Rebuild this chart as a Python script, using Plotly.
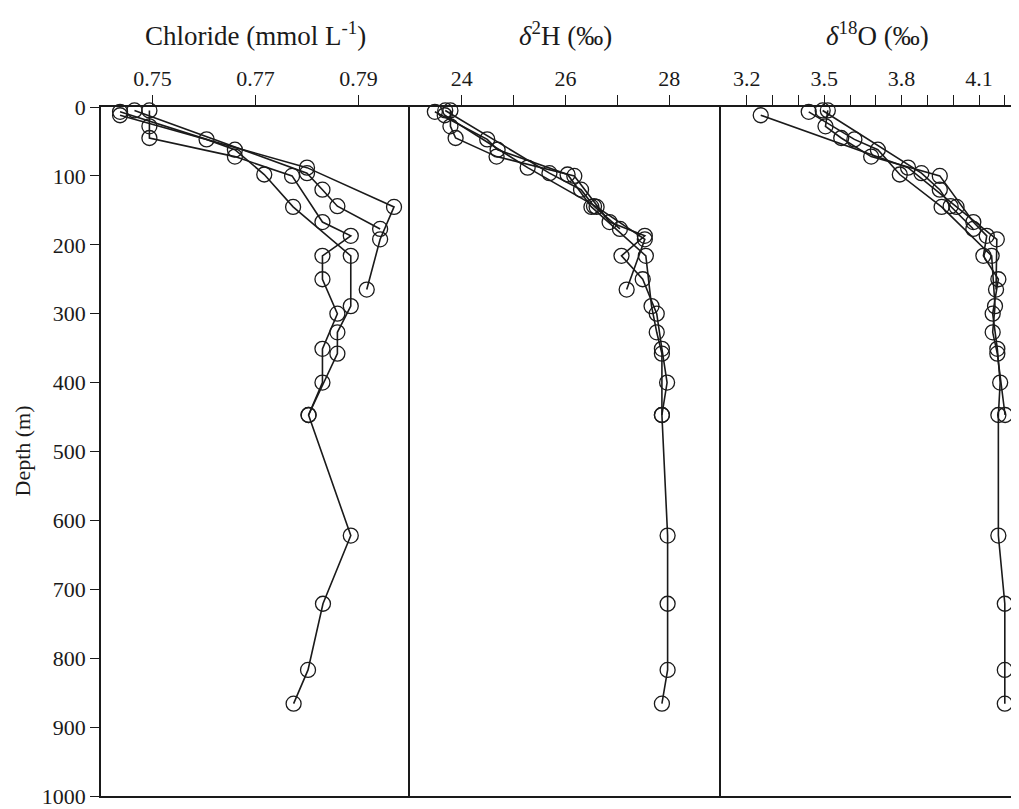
import plotly.graph_objects as go

# ---------------- data ----------------
# Series 1 (deep profile)
s1_depth = [5, 28, 45, 72, 100, 167, 187, 216, 250, 300, 351, 400, 447, 622, 721, 817, 866]
s1_cl    = [0.7494, 0.7494, 0.7494, 0.7660, 0.7771, 0.7830, 0.7885, 0.7830, 0.7830, 0.7859, 0.7830, 0.7830, 0.7803, 0.7885, 0.7831, 0.7802, 0.7774]
s1_d2h   = [23.78, 23.78, 23.88, 24.67, 26.17, 26.85, 27.53, 27.08, 27.49, 27.76, 27.86, 27.96, 27.86, 27.97, 27.97, 27.97, 27.86]
s1_d18o  = [3.514, 3.505, 3.566, 3.682, 3.948, 4.078, 4.130, 4.117, 4.175, 4.153, 4.171, 4.182, 4.175, 4.175, 4.200, 4.200, 4.200]

# Series 2
s2_depth = [7, 47, 62, 98, 145, 216, 289, 327, 358, 447]
s2_cl    = [0.7437, 0.7605, 0.7660, 0.7717, 0.7773, 0.7885, 0.7885, 0.7859, 0.7859, 0.7803]
s2_d2h   = [23.48, 24.49, 24.69, 26.04, 26.50, 27.55, 27.66, 27.76, 27.86, 27.86]
s2_d18o  = [3.440, 3.617, 3.708, 3.793, 3.955, 4.149, 4.162, 4.153, 4.171, 4.201]

# Series 3
s3_depth = [12, 88, 145, 192, 265]
s3_cl    = [0.7437, 0.7800, 0.7969, 0.7942, 0.7916]
s3_d2h   = [23.67, 25.27, 26.60, 27.53, 27.18]
s3_d18o  = [3.254, 3.825, 4.013, 4.169, 4.166]

# Series 4
s4_depth = [5, 96, 120, 144, 177]
s4_cl    = [0.7465, 0.7800, 0.7830, 0.7859, 0.7942]
s4_d2h   = [23.68, 25.69, 26.30, 26.55, 27.05]
s4_d18o  = [3.494, 3.877, 3.948, 3.990, 4.078]

series = [
    (s1_depth, s1_cl, s1_d2h, s1_d18o),
    (s2_depth, s2_cl, s2_d2h, s2_d18o),
    (s3_depth, s3_cl, s3_d2h, s3_d18o),
    (s4_depth, s4_cl, s4_d2h, s4_d18o),
]

cl_ticks = [0.75, 0.77, 0.79]
d2h_ticks = [24, 25, 26, 27, 28]
d2h_labels = ["24", "", "26", "", "28"]
d18o_ticks = [3.2, 3.3, 3.4, 3.5, 3.6, 3.7, 3.8, 3.9, 4.0, 4.1, 4.2]
d18o_labels = ["3.2", "", "", "3.5", "", "", "3.8", "", "", "4.1", ""]
depth_ticks = list(range(0, 1001, 100))

# ---------------- figure ----------------
FONT = "Liberation Serif"
INK = "#1a1a1a"

fig = go.Figure()
marker = dict(symbol="circle-open", size=15, color=INK, line=dict(width=1.3, color=INK))
for depth, cl, d2h, d18o in series:
    for xv, xa, ya in [(cl, "x", "y"), (d2h, "x2", "y2"), (d18o, "x3", "y3")]:
        fig.add_trace(go.Scatter(x=xv, y=depth, xaxis=xa, yaxis=ya, mode="lines+markers",
                                 line=dict(color=INK, width=1.6), marker=marker,
                                 showlegend=False, cliponaxis=False))

# page body has an 8 px margin; the figure is sized so the plot lands where the reference has it
OFF = 8
W, H = 1019 - OFF, 809 - OFF
L, R, T, B = 101 - OFF, 0, 107 - OFF, 6
pw = W - L - R
d1 = (410 - 101) / pw
d2 = (721 - 101) / pw

xcommon = dict(side="top", showline=True, linecolor=INK, linewidth=1.5, mirror=True,
               ticks="outside", ticklen=10, tickwidth=1.3, tickcolor=INK,
               tickfont=dict(family=FONT, size=22, color=INK), showgrid=False,
               zeroline=False, fixedrange=True, ticklabeloverflow="allow")
fig.update_layout(
    width=W, height=H, margin=dict(l=L, r=R, t=T, b=B),
    paper_bgcolor="white", plot_bgcolor="white",
    xaxis=dict(domain=[0, d1], range=[0.74, 0.80], tickvals=cl_ticks,
               ticktext=[f"{v:.2f}" for v in cl_ticks], anchor="y", **xcommon),
    xaxis2=dict(domain=[d1, d2], range=[23, 29], tickvals=d2h_ticks, ticktext=d2h_labels,
                anchor="y2", **xcommon),
    xaxis3=dict(domain=[d2, 1], range=[3.1, 4.255], tickvals=d18o_ticks, ticktext=d18o_labels,
                anchor="y3", **xcommon),
    yaxis=dict(range=[1000, 0], tickvals=depth_ticks, ticks="outside", ticklen=9, tickwidth=1.3,
               tickcolor=INK, showline=True, linecolor=INK, linewidth=1.5, showgrid=False,
               zeroline=False, tickfont=dict(family=FONT, size=22, color=INK), anchor="x",
               ticklabeloverflow="allow"),
    yaxis2=dict(range=[1000, 0], matches="y", showticklabels=False, ticks="", showline=True,
                linecolor=INK, linewidth=2.2, showgrid=False, zeroline=False, anchor="x2"),
    yaxis3=dict(range=[1000, 0], matches="y", showticklabels=False, ticks="", showline=True,
                linecolor=INK, linewidth=2.2, showgrid=False, zeroline=False, anchor="x3"),
)

ph = H - T - B
def ypx(p):
    # p: target pixel row in the page
    return (H - B - (p - OFF)) / ph

titles = [
    ("Chloride (mmol L<sup>-1</sup>)", d1 / 2),
    ("<i>δ</i><sup>2</sup>H (‰)", (d1 + d2) / 2),
    ("<i>δ</i><sup>18</sup>O (‰)", (d2 + 1) / 2 + 0.008),
]
for txt, xc in titles:
    fig.add_annotation(text=txt, x=xc, y=ypx(52), xref="paper", yref="paper",
                       xanchor="center", yanchor="bottom", showarrow=False,
                       font=dict(family=FONT, size=27, color=INK))

fig.add_annotation(text="Depth (m)", x=(22 - 101) / pw, y=0.5, xref="paper", yref="paper",
                   textangle=-90, showarrow=False, xanchor="center", yanchor="middle",
                   font=dict(family=FONT, size=22, color=INK))

fig.write_html("out.html")
